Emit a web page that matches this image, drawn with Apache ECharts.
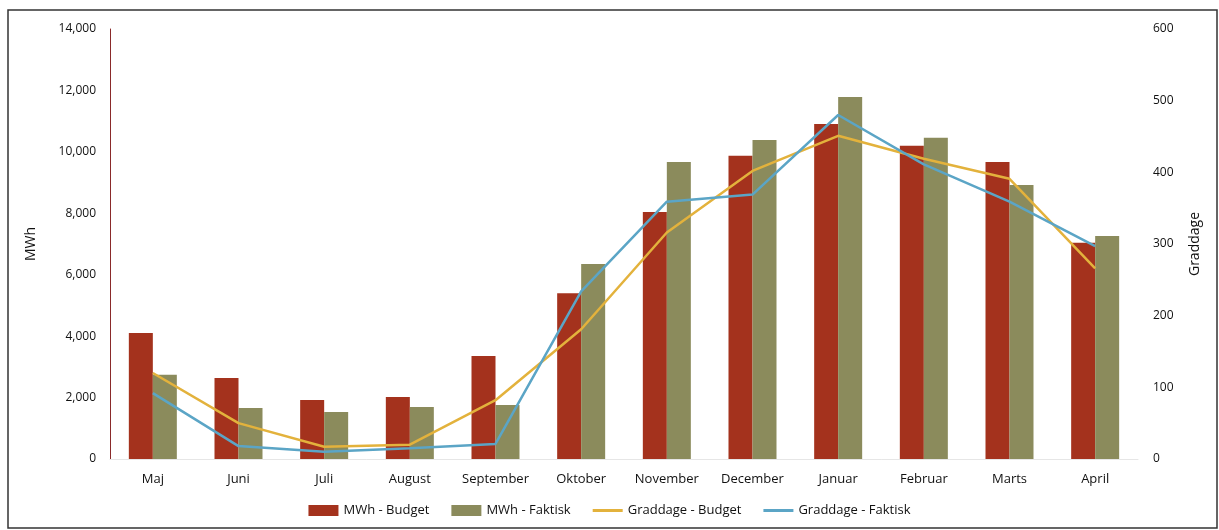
<!DOCTYPE html>
<html>
<head>
<meta charset="utf-8">
<script src="https://cdn.jsdelivr.net/npm/echarts@6/dist/echarts.min.js"></script>
<style>
html,body{margin:0;padding:0;background:#fff;}
#c{width:1219px;height:530px;}
</style>
</head>
<body>
<div id="c"></div>
<script>
const categories = ['Maj','Juni','Juli','August','September','Oktober','November','December','Januar','Februar','Marts','April'];
const mwhBudget = [4100, 2640, 1920, 2020, 3350, 5400, 8040, 9870, 10910, 10200, 9670, 7040];
const mwhFaktisk = [2740, 1660, 1530, 1690, 1760, 6350, 9670, 10390, 11790, 10460, 8920, 7260];
const graddageBudget = [120, 50, 17, 20, 82, 181, 316, 402, 451, 419, 391, 266];
const graddageFaktisk = [92, 18, 10, 15, 21, 234, 359, 369, 480, 411, 359, 297];
const leftTicks = {min: 0, max: 14000, interval: 2000};
const rightTicks = {min: 0, max: 600, interval: 100};

const chart = echarts.init(document.getElementById('c'));
const font = '"Open Sans", "Noto Sans", sans-serif';
const lineIcon = 'path://M0,0 L30,0 L30,3 L0,3 Z';
chart.setOption({
  animation: false,
  textStyle: {fontFamily: font},
  graphic: [{
    type: 'rect', shape: {x: 8, y: 10, width: 1209, height: 518},
    style: {fill: 'none', stroke: '#333', lineWidth: 1.5}, silent: true
  }],
  grid: {left: 110, right: 81, top: 29, bottom: 71},
  legend: {
    bottom: 8, left: 'center', itemGap: 22, itemWidth: 30, itemHeight: 11,
    textStyle: {fontSize: 13, color: '#111', fontFamily: font},
    data: [
      {name: 'MWh - Budget', icon: 'rect'},
      {name: 'MWh - Faktisk', icon: 'rect'},
      {name: 'Graddage - Budget', icon: lineIcon, itemStyle: {color: '#e3b23c'}},
      {name: 'Graddage - Faktisk', icon: lineIcon, itemStyle: {color: '#5ba5c6'}}
    ]
  },
  xAxis: {
    type: 'category', data: categories,
    axisTick: {show: false},
    axisLine: {show: true, lineStyle: {color: '#e6e6e6'}},
    axisLabel: {fontSize: 13, color: '#111', margin: 14, interval: 0}
  },
  yAxis: [{
    type: 'value', min: leftTicks.min, max: leftTicks.max, interval: leftTicks.interval,
    name: 'MWh', nameLocation: 'middle', nameGap: 72, nameRotate: 90,
    nameTextStyle: {fontSize: 14, color: '#111'},
    axisLine: {show: true, lineStyle: {color: '#8a2a2a', width: 1}},
    axisTick: {show: false}, splitLine: {show: false},
    axisLabel: {fontSize: 12, color: '#111', margin: 14,
      formatter: v => v.toLocaleString('en-US')}
  }, {
    type: 'value', min: rightTicks.min, max: rightTicks.max, interval: rightTicks.interval,
    name: 'Graddage', nameLocation: 'middle', nameGap: 50, nameRotate: 90,
    nameTextStyle: {fontSize: 14, color: '#111'},
    axisLine: {show: false}, axisTick: {show: false}, splitLine: {show: false},
    axisLabel: {fontSize: 12, color: '#111', margin: 15}
  }],
  series: [{
    name: 'MWh - Budget', type: 'bar', data: mwhBudget,
    itemStyle: {color: '#a4321d'}, barWidth: 24, barGap: '0%'
  }, {
    name: 'MWh - Faktisk', type: 'bar', data: mwhFaktisk,
    itemStyle: {color: '#8b8b5c'}, barWidth: 24, barGap: '0%'
  }, {
    name: 'Graddage - Budget', type: 'line', yAxisIndex: 1, data: graddageBudget,
    symbol: 'none', lineStyle: {color: '#e3b23c', width: 2.5}, itemStyle: {color: '#e3b23c'}
  }, {
    name: 'Graddage - Faktisk', type: 'line', yAxisIndex: 1, data: graddageFaktisk,
    symbol: 'none', lineStyle: {color: '#5ba5c6', width: 2.5}, itemStyle: {color: '#5ba5c6'}
  }]
});
</script>
</body>
</html>
